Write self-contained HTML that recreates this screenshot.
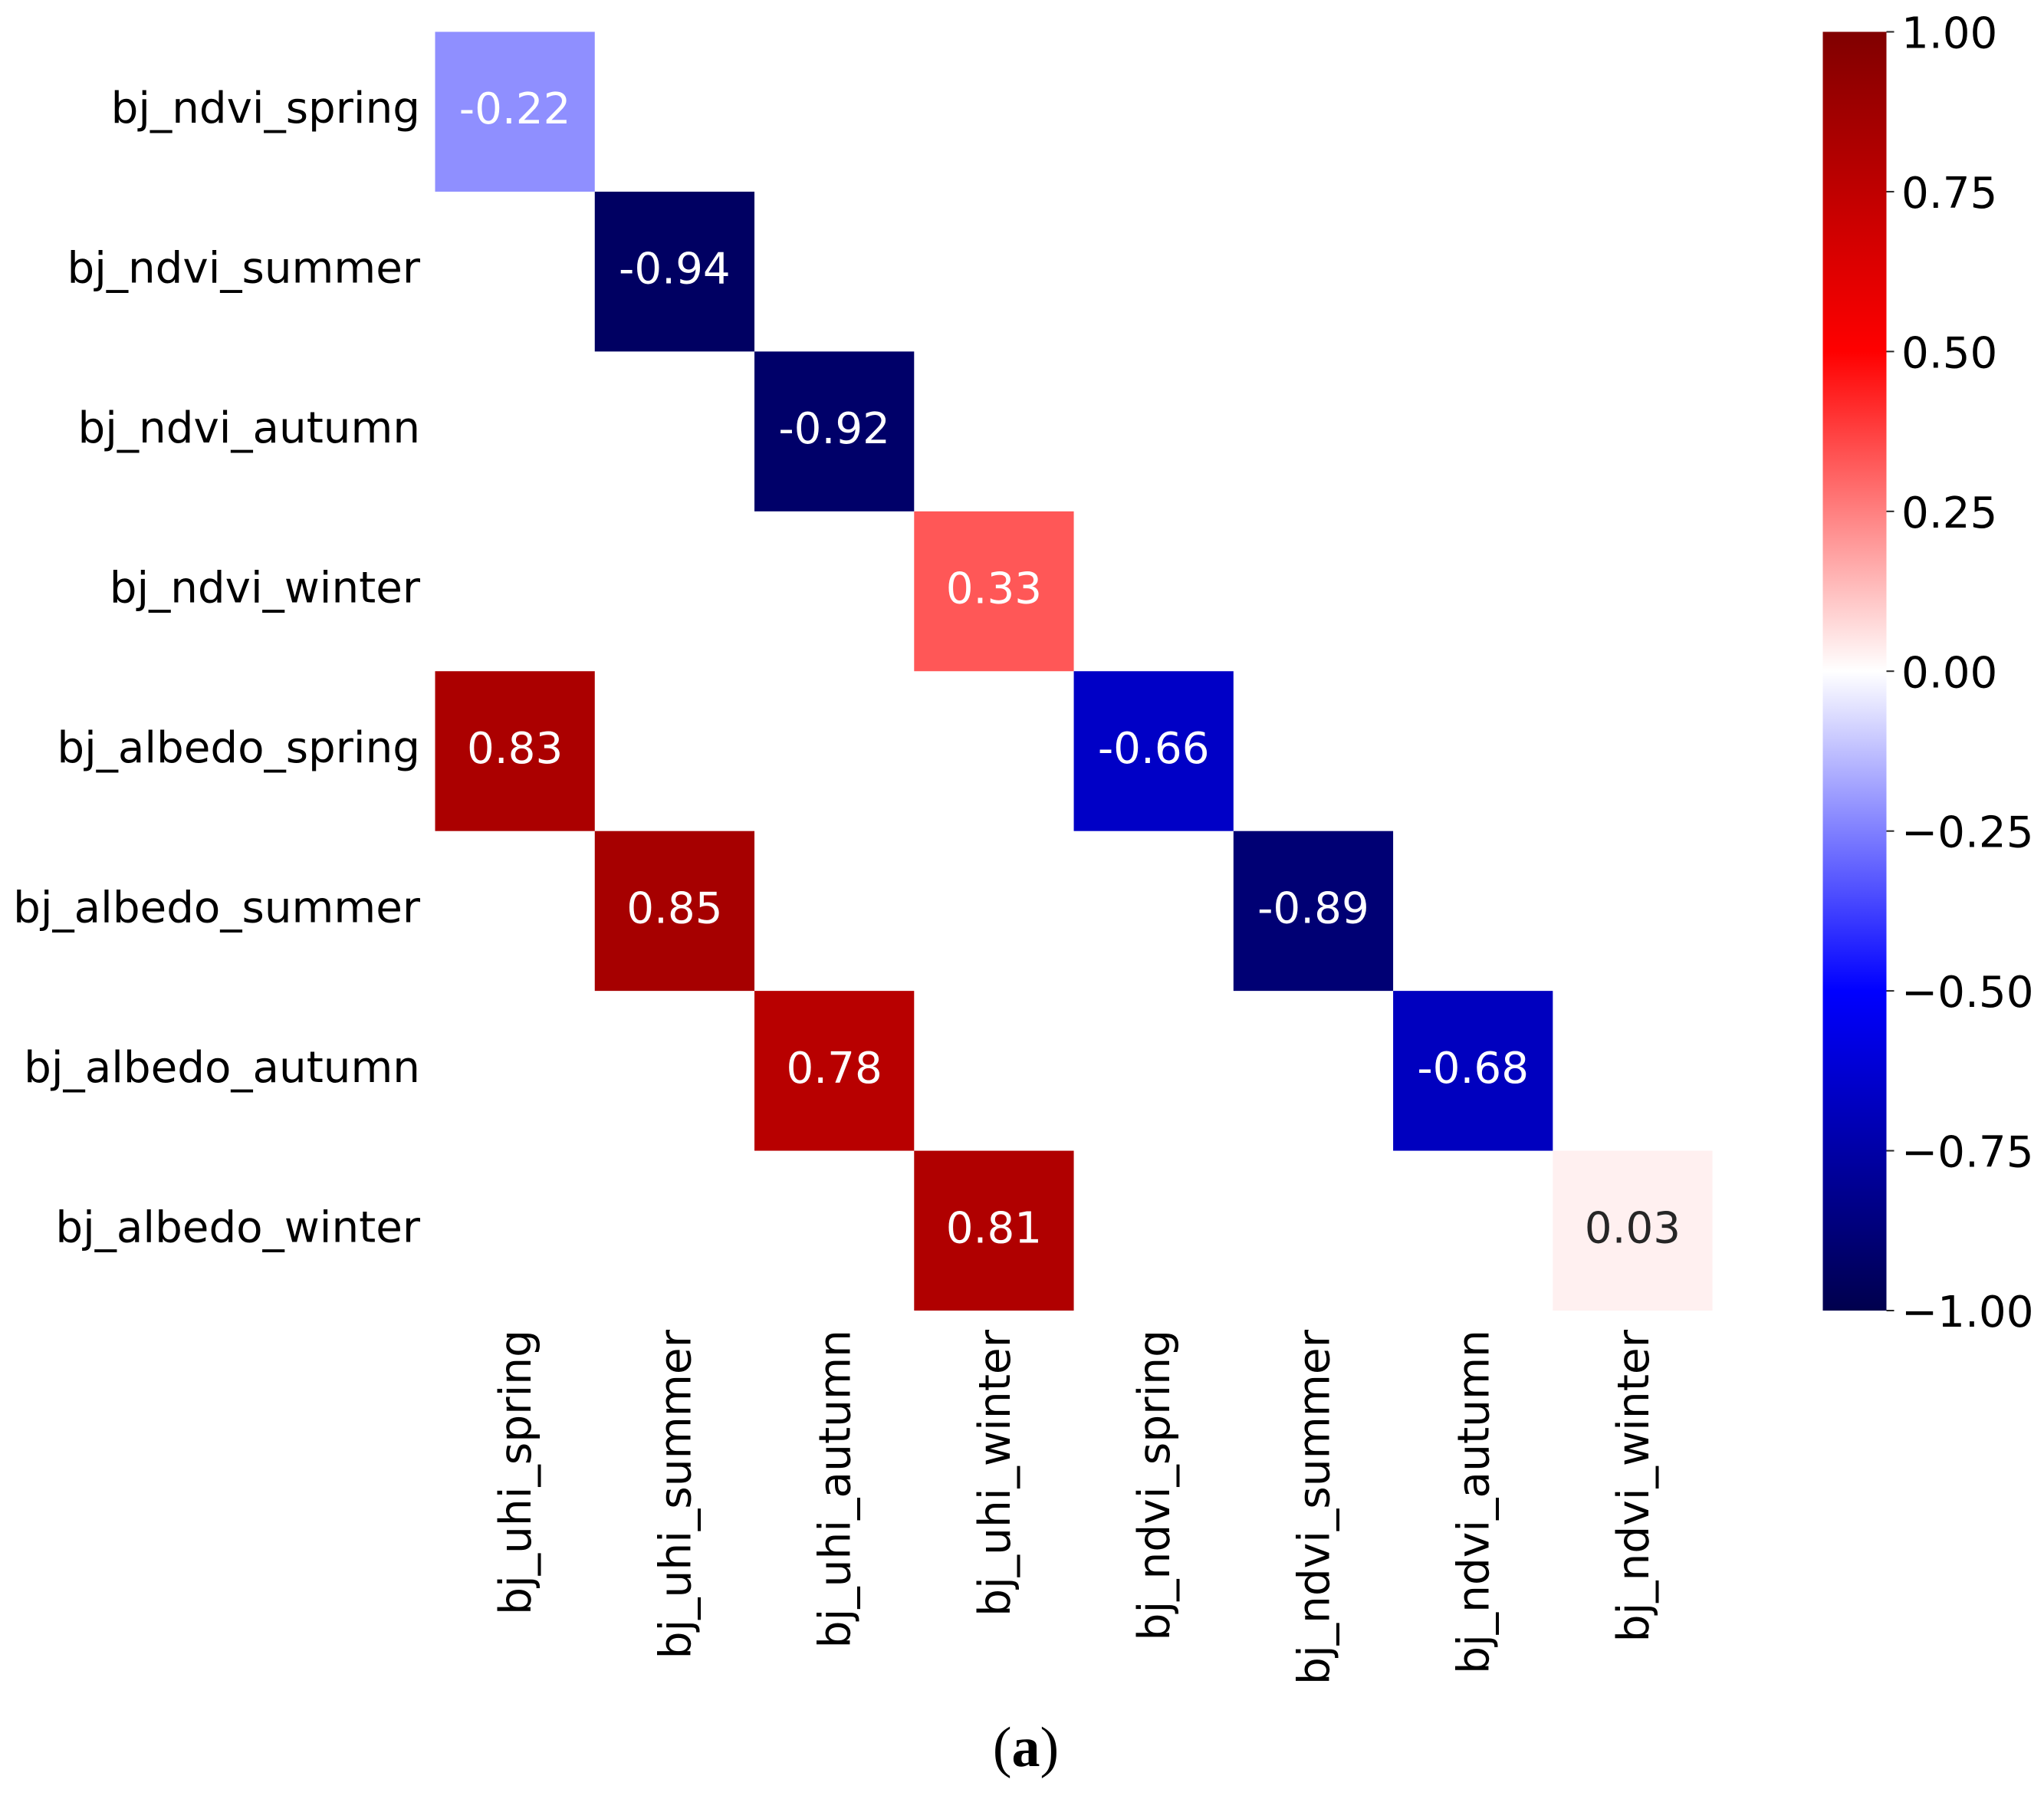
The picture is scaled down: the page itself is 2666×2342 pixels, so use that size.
<!DOCTYPE html>
<html lang="en">
<head>
<meta charset="utf-8">
<title>Correlation heatmap (a)</title>
<style>
  html, body { margin: 0; padding: 0; background: #ffffff; }
  body { width: 2666px; height: 2342px; overflow: hidden; }
  svg { display: block; }
  text { font-family: "DejaVu Sans", "Liberation Sans", sans-serif; font-size: 56.3px; }
  #xLabels text { font-size: 56.6px; }
  .caption { font-family: "Liberation Serif", serif; font-size: 74px; }
</style>
</head>
<body>
<svg id="chart" xmlns="http://www.w3.org/2000/svg" width="2666" height="2342" viewBox="0 0 2666 2342">
  <rect width="2666" height="2342" fill="#ffffff"/>
  <defs>
    <linearGradient id="seismicGradient" x1="0" y1="1" x2="0" y2="0"></linearGradient>
  </defs>
  <g id="cells"></g>
  <g id="yLabels"></g>
  <g id="xLabels"></g>
  <g id="colorbar"></g>
  <text class="caption" x="1338" y="2303" text-anchor="middle" fill="#000000">(<tspan font-weight="bold">a</tspan>)</text>
</svg>
<script>
const rowLabels = ["bj_ndvi_spring", "bj_ndvi_summer", "bj_ndvi_autumn", "bj_ndvi_winter", "bj_albedo_spring", "bj_albedo_summer", "bj_albedo_autumn", "bj_albedo_winter"];
const columnLabels = ["bj_uhi_spring", "bj_uhi_summer", "bj_uhi_autumn", "bj_uhi_winter", "bj_ndvi_spring", "bj_ndvi_summer", "bj_ndvi_autumn", "bj_ndvi_winter"];
const correlationValues = [
  [-0.22, null, null, null, null, null, null, null],
  [null, -0.94, null, null, null, null, null, null],
  [null, null, -0.92, null, null, null, null, null],
  [null, null, null, 0.33, null, null, null, null],
  [0.83, null, null, null, -0.66, null, null, null],
  [null, 0.85, null, null, null, -0.89, null, null],
  [null, null, 0.78, null, null, null, -0.68, null],
  [null, null, null, 0.81, null, null, null, 0.03]
];
const colorbarTicks = [1, 0.75, 0.5, 0.25, 0, -0.25, -0.5, -0.75, -1];
const seismicStops = [[0, 0, 0, 77], [0.25, 0, 0, 255], [0.5, 255, 255, 255], [0.75, 255, 0, 0], [1, 128, 0, 0]];

const SVG_NS = "http://www.w3.org/2000/svg";
const plot = { left: 567.5, top: 41.5, right: 2233.6, bottom: 1709 };
const bar = { left: 2377.5, right: 2460.5, top: 41.5, bottom: 1709 };
const cellWidth = (plot.right - plot.left) / columnLabels.length;
const cellHeight = (plot.bottom - plot.top) / rowLabels.length;

function xScale(i) { return plot.left + i * cellWidth; }
function yScale(i) { return plot.top + i * cellHeight; }
function colorbarY(v) { return bar.bottom - (v + 1) / 2 * (bar.bottom - bar.top); }

function seismic(v) {
  const t = Math.max(0, Math.min(1, (v + 1) / 2));
  for (let i = 1; i < seismicStops.length; i++) {
    const a = seismicStops[i - 1];
    const b = seismicStops[i];
    if (t <= b[0]) {
      const f = (t - a[0]) / (b[0] - a[0]);
      const c = [1, 2, 3].map(function (k) { return Math.round(a[k] + (b[k] - a[k]) * f); });
      return "rgb(" + c.join(",") + ")";
    }
  }
  return "rgb(128,0,0)";
}

function make(tag, attrs, parent, content) {
  const el = document.createElementNS(SVG_NS, tag);
  Object.keys(attrs).forEach(function (k) { el.setAttribute(k, attrs[k]); });
  if (content !== undefined) { el.textContent = content; }
  parent.appendChild(el);
  return el;
}

const cellsGroup = document.getElementById("cells");
correlationValues.forEach(function (row, r) {
  row.forEach(function (value, c) {
    if (value === null) { return; }
    const rect = make("rect", { x: xScale(c), y: yScale(r), width: cellWidth, height: cellHeight, fill: seismic(value) }, cellsGroup);
    
    
    const label = make("text", {
      x: xScale(c) + cellWidth / 2,
      y: yScale(r) + cellHeight / 2 + 15.5,
      "text-anchor": "middle",
      fill: Math.abs(value) < 0.1 ? "#262626" : "#ffffff"
    }, cellsGroup, value.toFixed(2));
    
    
  });
});

const yLabelGroup = document.getElementById("yLabels");
rowLabels.forEach(function (name, r) {
  const label = make("text", {
    x: 548,
    y: yScale(r) + cellHeight / 2 + 14.5,
    "text-anchor": "end",
    fill: "#000000"
  }, yLabelGroup, name);
  
  
});

const xLabelGroup = document.getElementById("xLabels");
columnLabels.forEach(function (name, c) {
  const px = xScale(c) + cellWidth / 2 + 20.5;
  const py = 1734;
  const label = make("text", {
    transform: "translate(" + px + " " + py + ") rotate(-90)",
    "text-anchor": "end",
    fill: "#000000"
  }, xLabelGroup, name);
  
  
});

const gradient = document.getElementById("seismicGradient");
seismicStops.forEach(function (s) {
  make("stop", { offset: s[0], "stop-color": "rgb(" + s[1] + "," + s[2] + "," + s[3] + ")" }, gradient);
});

const colorbarGroup = document.getElementById("colorbar");
const barRect = make("rect", {
  x: bar.left,
  y: bar.top,
  width: bar.right - bar.left,
  height: bar.bottom - bar.top,
  fill: "url(#seismicGradient)"
}, colorbarGroup);



colorbarTicks.forEach(function (v) {
  const y = colorbarY(v);
  const tick = make("line", { x1: bar.right, x2: bar.right + 10, y1: y, y2: y, stroke: "#262626", "stroke-width": 2 }, colorbarGroup);
  
  
  const text = (v < 0 ? "\u2212" : "") + Math.abs(v).toFixed(2);
  const label = make("text", { x: 2480, y: y + 21, fill: "#000000" }, colorbarGroup, text);
  
  
});
</script>
</body>
</html>
